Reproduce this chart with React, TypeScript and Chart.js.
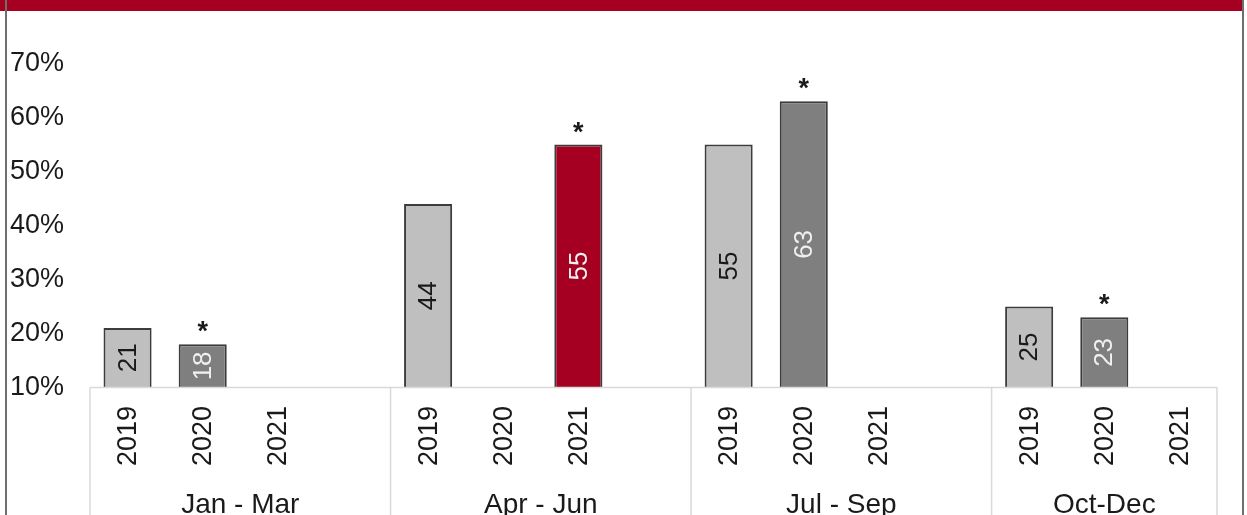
import React, { useEffect, useRef } from "react";
import { Chart, registerables } from "chart.js";

Chart.register(...registerables);

// ---- data ----
const quarters = ["Jan - Mar", "Apr - Jun", "Jul - Sep", "Oct-Dec"];
const years = ["2019", "2020", "2021"];
const values2019: (number | null)[] = [21, 44, 55, 25];
const values2020: (number | null)[] = [18, null, 63, 23];
const values2021: (number | null)[] = [null, 55, null, null];
const starred2019 = [false, false, false, false];
const starred2020 = [true, false, true, true];
const starred2021 = [false, true, false, false];
const yMin = 10;
const yMax = 70;
const yStep = 10;

// ---- styles ----
const FONT = "'Liberation Sans', Arial, Helvetica, sans-serif";
const yearColors = ["#BFBFBF", "#7F7F7F", "#A50021"];
const valueLabelColors = ["#1a1a1a", "#f0f0f0", "#f0f0f0"];

const valuesByYear = [values2019, values2020, values2021];
const starsByYear = [starred2019, starred2020, starred2021];

// slots: each quarter has one slot per year, plus a spacer slot between quarters
const slotLabels: string[] = [];
quarters.forEach((_, q) => {
  years.forEach((y) => slotLabels.push(y));
  if (q < quarters.length - 1) slotLabels.push("");
});
const slotIndex = (q: number, y: number) => q * (years.length + 1) + y;

const datasets = years.map((yr, y) => {
  const data: (number | null)[] = slotLabels.map(() => null);
  quarters.forEach((_, q) => {
    data[slotIndex(q, y)] = valuesByYear[y][q];
  });
  return {
    label: yr,
    data,
    backgroundColor: yearColors[y],
    borderColor: "#3c3c3c",
    borderWidth: 2,
    grouped: false,
    categoryPercentage: 1,
    barPercentage: 0.64,
  };
});

const decorPlugin = {
  id: "decor",
  afterDatasetsDraw(chart: any) {
    const ctx = chart.ctx as CanvasRenderingContext2D;
    const xs = chart.scales.x;
    const area = chart.chartArea;
    const H = chart.height;
    const n = slotLabels.length;
    const slotW = (area.right - area.left) / n;

    ctx.save();
    // header band
    ctx.fillStyle = "#A50021";
    ctx.fillRect(0, 0, 1243, 11);
    // outer frame
    ctx.strokeStyle = "#6e6e6e";
    ctx.lineWidth = 2;
    ctx.beginPath();
    ctx.moveTo(6, 0);
    ctx.lineTo(6, H);
    ctx.moveTo(1243, 0);
    ctx.lineTo(1243, H);
    ctx.stroke();

    // axis box
    ctx.strokeStyle = "#d9d9d9";
    ctx.lineWidth = 1.5;
    ctx.beginPath();
    ctx.moveTo(area.left, area.bottom);
    ctx.lineTo(area.right, area.bottom);
    const bounds: number[] = [];
    quarters.forEach((_, q) => {
      bounds.push(xs.getPixelForValue(slotIndex(q, 0)) - slotW / 2);
    });
    bounds.push(area.right);
    bounds.forEach((b) => {
      ctx.moveTo(b, area.bottom);
      ctx.lineTo(b, H);
    });
    ctx.stroke();

    // year labels (rotated)
    ctx.fillStyle = "#1a1a1a";
    ctx.font = `27px ${FONT}`;
    ctx.textAlign = "center";
    ctx.textBaseline = "middle";
    slotLabels.forEach((lab, i) => {
      if (!lab) return;
      const x = xs.getPixelForValue(i);
      ctx.save();
      ctx.translate(x, 436);
      ctx.rotate(-Math.PI / 2);
      ctx.fillText(lab, 0, 1);
      ctx.restore();
    });

    // group labels
    ctx.font = `28px ${FONT}`;
    ctx.textBaseline = "alphabetic";
    quarters.forEach((qn, q) => {
      const cx = (bounds[q] + bounds[q + 1]) / 2;
      ctx.fillText(qn, cx, 513);
    });

    // value labels inside bars + asterisks
    years.forEach((_, y) => {
      const meta = chart.getDatasetMeta(y);
      quarters.forEach((__, q) => {
        const idx = slotIndex(q, y);
        const v = valuesByYear[y][q];
        if (v == null) return;
        const el = meta.data[idx];
        if (!el) return;
        const top = el.y;
        const base = Math.min(el.base, area.bottom);
        ctx.save();
        ctx.translate(el.x, (top + base) / 2);
        ctx.rotate(-Math.PI / 2);
        ctx.fillStyle = valueLabelColors[y];
        ctx.font = `26px ${FONT}`;
        ctx.textAlign = "center";
        ctx.textBaseline = "middle";
        ctx.fillText(String(v), 0, 1);
        ctx.restore();
        if (starsByYear[y][q]) {
          ctx.fillStyle = "#1a1a1a";
          ctx.font = `bold 27px ${FONT}`;
          ctx.textAlign = "center";
          ctx.textBaseline = "alphabetic";
          ctx.fillText("*", el.x, top - 4);
        }
      });
    });
    ctx.restore();
  },
};

export default function App() {
  const ref = useRef<HTMLCanvasElement | null>(null);
  useEffect(() => {
    if (!ref.current) return;
    const chart = new Chart(ref.current, {
      type: "bar",
      data: { labels: slotLabels, datasets: datasets as any },
      options: {
        animation: false,
        responsive: false,
        maintainAspectRatio: false,
        layout: { padding: { left: 10, right: 30, top: 63.5, bottom: 127.5 } },
        plugins: {
          legend: { display: false },
          tooltip: { enabled: false },
        },
        scales: {
          x: {
            display: false,
            offset: true,
          },
          y: {
            min: yMin,
            max: yMax,
            grid: { display: false },
            border: { display: false },
            ticks: {
              stepSize: yStep,
              crossAlign: "far",
              padding: 0,
              color: "#1a1a1a",
              font: { size: 27, family: FONT },
              callback: (v: any) => `${v}%`,
            },
            afterFit: (scale: any) => {
              scale.width = 80;
            },
          },
        },
      },
      plugins: [decorPlugin],
    });
    return () => chart.destroy();
  }, []);
  return (
    <div style={{ position: "absolute", left: 0, top: 0, width: 1247, height: 515, background: "#fff" }}>
      <canvas ref={ref} width={1247} height={515} style={{ display: "block", width: 1247, height: 515 }} />
    </div>
  );
}
